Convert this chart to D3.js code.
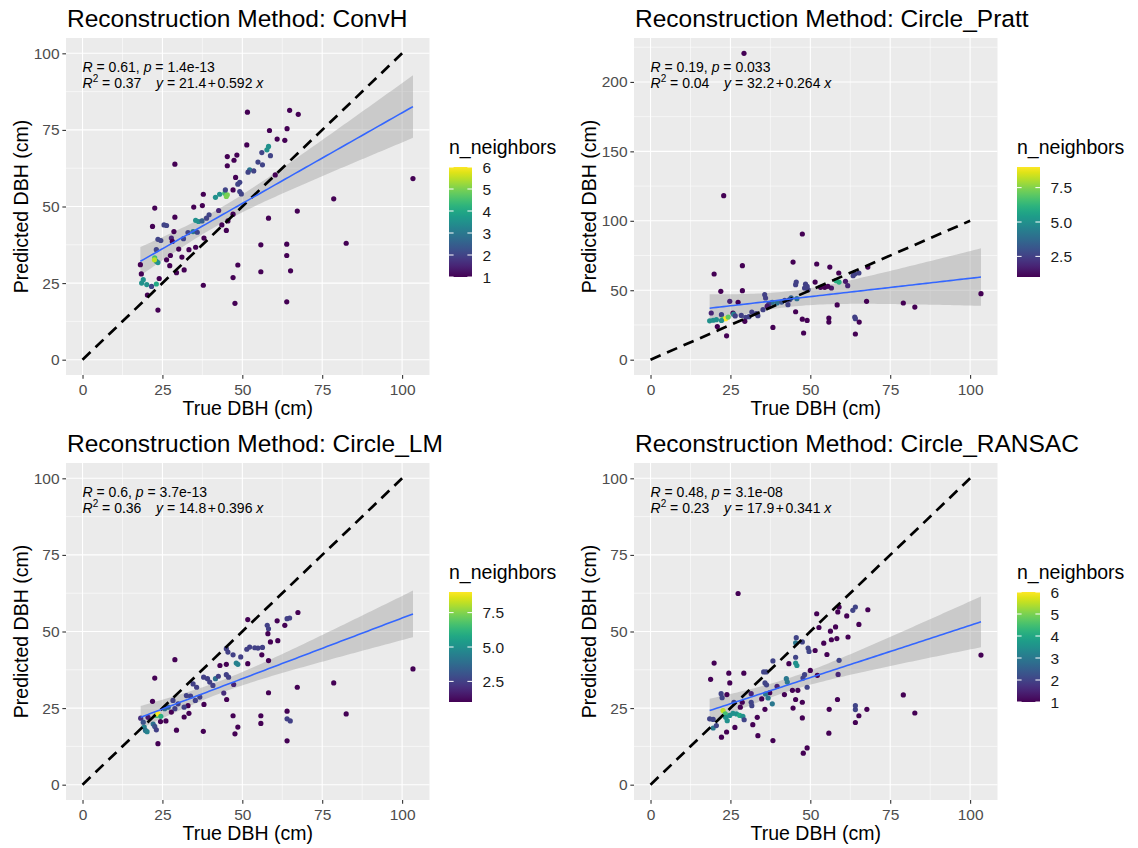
<!DOCTYPE html>
<meta charset="utf-8">
<style type="text/css">
body { margin: 0; background: #fff; }
text { font-family: "Liberation Sans", Arial, sans-serif; }
.panel-bg { fill: #EBEBEB; }
.grid-major { stroke: #fff; stroke-width: 1.1px; }
.grid-minor { stroke: #fff; stroke-width: 0.55px; }
.axis path.domain { display: none; }
.axis line { stroke: #333333; stroke-width: 1.1px; }
.axis text { fill: #4D4D4D; font-size: 15.5px; }
.band { fill: #999999; fill-opacity: 0.4; }
.fit { fill: none; stroke: #3366FF; stroke-width: 1.6px; }
.oneone { stroke: #000; stroke-width: 2.7px; stroke-dasharray: 11 7; fill: none; }
</style>
<body></body>
<script src="https://cdn.jsdelivr.net/npm/d3@7"></script>
<script>

// ---- panel labels and fit statistics ----
var methods = ["ConvH", "Circle_Pratt", "Circle_LM", "Circle_RANSAC"];
var statR = ["0.61", "0.19", "0.6", "0.48"];
var statP = ["1.4e-13", "0.033", "3.7e-13", "3.1e-08"];
var statR2 = ["0.37", "0.04", "0.36", "0.23"];
var intercepts = [21.4, 32.2, 14.8, 17.9];
var slopes = [0.592, 0.264, 0.396, 0.341];

// tick labels
var xTicks = [0, 25, 50, 75, 100];
var yTicks = [[0, 25, 50, 75, 100], [0, 50, 100, 150, 200], [0, 25, 50, 75, 100], [0, 25, 50, 75, 100]];
var colorLimits = [[1, 6], [1, 9], [1, 9], [1, 6]];
var legendTicks = [[1, 2, 3, 4, 5, 6], [2.5, 5, 7.5], [2.5, 5, 7.5], [1, 2, 3, 4, 5, 6]];
var legendLabels = [["1", "2", "3", "4", "5", "6"], ["2.5", "5.0", "7.5"], ["2.5", "5.0", "7.5"], ["1", "2", "3", "4", "5", "6"]];

// ---- ConvH ----
var convhTrue = [51.6,64.8,67.5,58.5,64.0,60.9,63.3,51.4,58.2,57.7,
  58.8,56.1,45.3,48.3,45.3,47.4,28.9,54.9,56.3,52.3,
  51.8,53.6,47.9,49.2,48.6,60.3,37.8,47.1,49.2,49.7,
  41.6,42.9,44.5,45.3,45.0,44.7,37.5,34.8,22.6,28.9,
  39.6,38.8,42.6,47.1,45.5,58.2,67.2,78.6,103.4,35.4,
  36.3,37.4,21.9,25.5,26.3,28.6,33.0,34.6,35.9,45.0,
  43.6,23.6,24.5,27.8,28.1,31.6,38.0,23.1,30.1,33.3,
  35.4,55.8,63.9,82.5,63.9,22.6,23.1,23.6,22.5,26.3,
  27.5,31.1,27.3,29.4,31.8,18.1,48.6,55.8,65.1,47.1,
  18.4,24.0,19.0,18.5,20.1,21.6,23.1,37.8,20.3,23.6,
  47.7,63.9];
var convhPred = [80.8,81.4,80.1,74.8,75.4,72.0,71.6,70.1,69.6,68.5,
  66.6,67.6,66.3,66.8,63.3,65.1,63.8,64.5,63.6,62.0,
  61.2,61.6,59.5,57.9,57.3,60.3,54.0,55.4,54.9,54.1,
  53.0,54.0,54.3,53.8,53.3,55.4,50.3,49.8,49.5,46.5,
  47.3,46.2,48.7,47.5,45.3,46.2,48.5,52.5,59.1,45.5,
  45.1,45.3,43.5,44.0,43.8,41.8,41.5,41.8,41.6,42.2,
  44.0,39.3,38.9,39.7,38.6,39.5,39.7,35.9,36.1,35.9,
  36.7,37.5,37.7,38.0,34.0,33.2,32.1,31.7,32.6,32.6,
  34.0,33.5,30.7,28.4,29.3,31.0,30.9,28.7,29.0,26.8,
  28.0,26.5,26.1,25.0,24.5,23.9,24.7,24.3,21.1,16.2,
  18.4,18.9];
var convhN = [1,1,1,1,1,1,1,1,3.5,3.5,
  2,2,1,1,1,1,1,2,2,3,
  2,2,1,2,2,1,1,1,2,2,
  3.5,3.5,4.5,5,5,2,1,1,1,1,
  2,2,1.5,1,1,1,1,1,1,3.5,
  3.5,2.5,1,2,2,1,2,3,2,1,
  1,2,2,1.5,1,2,1,2,1,1,
  1,1,1,1,1,4.5,3.5,3.5,5.5,1,
  1,1,1,1,1,1,1,1,1,1,
  1,1,3.5,3.5,3.5,2,4,1,1,1,
  1,1];

// ---- Circle_Pratt ----
var prattTrue = [47.5,19.9,28.75,44.6,52.0,56.1,68.0,58.9,65.2,63.9,
  63.4,61.0,58.1,59.0,45.6,45.4,51.5,48.5,49.0,48.2,
  49.3,53.2,54.5,56.6,55.5,61.7,28.75,22.0,35.7,24.8,
  27.4,36.0,38.1,39.6,42.0,43.5,45.8,43.0,67.6,79.1,
  82.7,103.4,58.4,45.4,19.0,22.2,25.8,31.7,33.1,28.4,
  29.8,33.6,35.2,18.5,19.6,20.6,22.7,23.5,24.3,22.2,
  26.0,20.9,23.8,29.5,38.3,47.5,49.0,47.9,55.8,55.8,
  63.9,64.1,65.3,64.1,29.25,22.9,37.0,41.0,44.0,26.5,
  30.8,36.5];
var prattPred = [90.5,61.7,67.7,70.3,68.9,66.7,66.7,62.4,62.4,61.7,
  60.5,56.4,56.9,55.9,55.9,54.0,55.9,54.4,52.8,51.6,
  50.4,52.1,52.1,51.6,52.8,53.3,49.7,49.2,46.8,42.0,
  41.3,44.4,41.3,40.8,42.7,43.2,43.9,39.6,42.0,40.8,
  37.9,47.5,39.4,34.5,33.6,32.4,33.6,34.3,33.1,31.9,
  30.5,31.7,36.0,28.0,28.4,28.8,29.3,29.5,30.7,28.2,
  32.8,23.9,17.2,27.6,23.2,29.2,28.3,19.2,30.0,27.1,
  30.7,29.5,27.1,18.5,220.6,118.1,40.0,41.5,44.5,31.5,
  31.0,38.5];
var prattN = [1,1,1,1,1,1,1,1,2.5,2.5,
  2.5,1.5,6,6,2.5,2.5,1,2.5,2.5,2.5,
  2.5,1,1,1.5,1,1.8,1,1,2.5,1.8,
  1,2.5,4,4,2.5,2.5,4,2.5,1,1,
  1,1,1,1,1.8,2.5,1,2.5,2.5,2.5,
  2.5,2.5,2.5,5,5,5,7,9,7,5,
  4.5,1,1,1,1,1,1,1,1,1,
  2.5,2.5,1,1,1,1,2.5,3,3.5,2.5,
  2.5,1.5];

// ---- Circle_LM ----
var lmTrue = [67.4,51.7,60.9,64.0,64.8,63.3,57.8,58.2,58.0,58.8,
  61.1,52.3,53.9,54.9,56.3,51.4,49.5,47.1,45.5,45.0,
  56.1,58.2,48.1,48.6,51.7,28.9,43.0,45.0,22.6,37.9,
  39.1,41.6,42.5,45.0,45.7,47.3,34.6,35.7,39.8,40.8,
  44.2,45.1,67.2,78.6,103.4,58.2,21.9,33.0,38.0,35.3,
  36.7,33.8,31.8,29.9,27.8,33.3,31.8,64.0,82.5,47.1,
  55.8,64.0,65.0,55.8,48.6,47.7,37.8,29.4,26.1,24.4,
  23.6,64.0,18.2,20.5,23.1,23.6,22.1,22.6,23.1,19.3,
  19.7,19.0,25.7,26.8,28.9,32.5,28.3,20.2,24.5];
var lmPred = [56.2,53.9,53.5,54.2,54.4,52.0,52.0,50.9,49.3,46.6,
  47.0,44.9,44.7,44.6,44.8,44.2,41.7,42.4,43.3,44.4,
  42.4,40.5,39.7,39.3,39.5,40.8,38.9,39.3,34.8,35.1,
  34.6,34.6,35.4,35.9,35.1,32.7,32.9,31.8,33.5,32.4,
  29.9,27.8,31.8,33.2,37.8,30.0,27.2,25.8,26.2,27.5,
  28.6,28.9,25.3,26.4,23.7,23.3,22.1,24.0,23.1,22.5,
  22.5,21.5,20.8,20.0,18.8,16.6,17.4,17.8,20.8,20.6,
  13.4,14.3,21.7,22.0,22.6,23.1,19.8,19.0,17.9,18.8,
  17.7,20.4,24.8,25.3,24.8,29.1,27.5,17.3,22.3];
var lmN = [1,1,1,2.5,2.5,1,2.5,2.5,1,1,
  1,2.5,2.5,2.5,2.5,2.5,2.5,2.5,2.5,2.5,
  1,1,4.5,4.5,1,1,1,1,1,2.5,
  2.5,4,2.5,2.5,2.5,1.8,2.5,2.5,2.5,2.5,
  2,1,1,1,1,1,1,1,1,2.5,
  2.5,2.5,2.5,2.5,1,1,1,1,1,1,
  1,2.5,2.5,1,1,1,1,1,1,1,
  1,1,2,1.5,6.5,9,4,3,2.5,4.5,
  4,3,4,3.5,2.5,2.5,2.5,4.5,6];

// ---- Circle_RANSAC ----
var ransacTrue = [27.4,59.0,58.6,52.0,64.1,63.3,68.0,61.4,52.7,57.9,
  56.3,65.2,61.8,58.3,56.6,54.2,45.6,47.5,45.4,49.3,
  49.6,51.5,55.2,45.4,43.3,38.3,45.4,45.8,59.0,58.7,
  19.9,18.8,24.5,24.8,29.2,35.4,36.2,50.0,52.2,48.2,
  47.7,49.0,42.5,42.8,35.8,36.3,39.6,44.4,46.1,41.9,
  37.3,34.8,36.0,36.8,38.1,45.4,47.5,58.5,79.1,82.7,
  103.4,64.1,64.1,67.7,65.2,64.1,55.9,44.6,35.8,22.1,
  22.4,23.9,26.1,28.7,31.5,31.5,31.7,28.1,33.4,32.0,
  26.4,23.8,22.2,33.6,38.3,55.8,49.0,47.8,47.5,22.7,
  23.4,24.0,23.5,24.8,25.8,26.9,27.9,28.9,29.3,18.5,
  19.6,19.6,20.6];
var ransacPred = [62.4,58.0,56.4,55.8,58.0,56.9,57.1,55.1,51.3,51.5,
  50.1,52.3,48.2,47.7,47.3,46.2,48.0,46.6,46.3,44.6,
  43.5,43.8,42.5,41.6,39.5,40.4,39.7,38.9,40.6,36.0,
  39.7,34.4,36.4,33.2,36.4,36.8,36.8,37.3,35.7,35.9,
  34.8,31.8,34.6,33.5,33.2,32.6,32.1,30.8,30.8,29.4,
  30.0,28.0,29.6,28.3,26.4,27.8,26.9,27.8,29.3,23.4,
  42.3,25.8,24.5,24.6,22.5,20.3,24.6,25.0,24.6,29.7,
  28.4,29.4,26.9,26.9,29.7,26.9,25.8,25.3,22.0,19.6,
  18.7,17.2,15.5,16.0,14.4,16.8,12.0,10.3,21.8,24.2,
  23.1,20.9,22.0,22.6,23.3,23.1,22.6,22.3,21.2,21.5,
  21.3,18.5,19.3];
var ransacN = [1,1,1,1,2,2,1,1,1,1,
  1,1,1,1,1,1,2,2,3,2,
  2,1,1,2,1,2,3.5,3.5,2,1.5,
  1,1,1,1,1,2,2,1,1,2,
  2,2,3,3,2,2,1.5,1,1,1,
  1,1,3,3,3,1,1,1,1,1,
  1,2,2,1,1,1,1,1,1,2,
  2,1,2,1,1.5,2,2,1,1,1,
  1,1,1,1,1,1,1,1,1,5.5,
  4.5,3.5,3.5,3.5,3.5,3.5,4,3.5,2,2,
  2,3,2];

var allTrue = [convhTrue, prattTrue, lmTrue, ransacTrue];
var allPred = [convhPred, prattPred, lmPred, ransacPred];
var allN = [convhN, prattN, lmN, ransacN];

// ---- layout ----
var width = 1138, height = 848;
var panelLeft = [66, 634, 66, 634],
    panelTop = [38, 38, 463, 463],
    panelW = 363.5, panelH = 337;

var svg = d3.select("body")
  .append("svg")
  .attr("width", width)
  .attr("height", height);

var defs = svg.append("defs");

for (var k = 0; k < 4; k++) {
  drawPanel(k, allTrue[k], allPred[k], allN[k]);
}

function drawPanel(k, xs, ys, ns) {
  var g = svg.append("g");
  var x0 = panelLeft[k], y0 = panelTop[k];

  // ranges include the 1:1 line (0..100) plus ggplot's 5% expansion
  var xMax = Math.max(100, d3.max(xs)), yMax = Math.max(100, d3.max(ys));
  var x = d3.scaleLinear().domain([-xMax * 0.05, xMax * 1.05]).range([x0, x0 + panelW]);
  var y = d3.scaleLinear().domain([-yMax * 0.05, yMax * 1.05]).range([y0 + panelH, y0]);

  var color = d3.scaleSequential(d3.interpolateViridis).domain(colorLimits[k]);

  g.append("rect").attr("class", "panel-bg")
    .attr("x", x0).attr("y", y0).attr("width", panelW).attr("height", panelH);

  // grid lines: minor halfway between the majors
  var yt = yTicks[k], ystep = yt[1] - yt[0];
  var yMinor = d3.range(yt[0] - ystep / 2, y.domain()[1], ystep).filter(function(v) { return v > y.domain()[0]; });
  var xstep = xTicks[1] - xTicks[0];
  var xMinor = d3.range(xTicks[0] - xstep / 2, x.domain()[1], xstep).filter(function(v) { return v > x.domain()[0]; });

  g.selectAll(".gy-minor").data(yMinor).enter().append("line").attr("class", "grid-minor")
    .attr("x1", x0).attr("x2", x0 + panelW).attr("y1", y).attr("y2", y);
  g.selectAll(".gx-minor").data(xMinor).enter().append("line").attr("class", "grid-minor")
    .attr("y1", y0).attr("y2", y0 + panelH).attr("x1", x).attr("x2", x);
  g.selectAll(".gy-major").data(yt).enter().append("line").attr("class", "grid-major")
    .attr("x1", x0).attr("x2", x0 + panelW).attr("y1", y).attr("y2", y);
  g.selectAll(".gx-major").data(xTicks).enter().append("line").attr("class", "grid-major")
    .attr("y1", y0).attr("y2", y0 + panelH).attr("x1", x).attr("x2", x);

  // confidence band of the linear fit (lm, 95%)
  var a = intercepts[k], b = slopes[k];
  var n = xs.length, xbar = d3.mean(xs);
  var sxx = d3.sum(xs, function(v) { return (v - xbar) * (v - xbar); });
  var rss = d3.sum(xs, function(v, i) { var r = ys[i] - (a + b * v); return r * r; });
  var s = Math.sqrt(rss / (n - 2));
  var tq = 1.985;
  var xmin = d3.min(xs), xmax = d3.max(xs);
  var grid = d3.range(80).map(function(i) { return xmin + i * (xmax - xmin) / 79; });
  var fitData = grid.map(function(v) {
    var f = a + b * v;
    var se = s * Math.sqrt(1 / n + (v - xbar) * (v - xbar) / sxx);
    return {x: v, y: f, lo: f - tq * se, hi: f + tq * se};
  });

  g.append("path").datum(fitData).attr("class", "band")
    .attr("d", d3.area().x(function(d) { return x(d.x); })
      .y0(function(d) { return y(d.lo); }).y1(function(d) { return y(d.hi); }));

  // points
  var pts = xs.map(function(v, i) { return {x: v, y: ys[i], n: ns[i]}; });
  g.selectAll(".dot").data(pts).enter().append("circle")
    .attr("cx", function(d) { return x(d.x); })
    .attr("cy", function(d) { return y(d.y); })
    .attr("r", 2.6)
    .attr("fill", function(d) { return color(d.n); });

  // 1:1 line
  g.append("line").attr("class", "oneone")
    .attr("x1", x(0)).attr("y1", y(0)).attr("x2", x(100)).attr("y2", y(100));

  // fitted line
  g.append("path").datum(fitData).attr("class", "fit")
    .attr("d", d3.line().x(function(d) { return x(d.x); }).y(function(d) { return y(d.y); }));

  // axes
  g.append("g").attr("class", "axis")
    .attr("transform", "translate(" + x0 + ",0)")
    .call(d3.axisLeft(y).tickValues(yt).tickSize(3.65).tickPadding(2.8));
  g.append("g").attr("class", "axis")
    .attr("transform", "translate(0," + (y0 + panelH) + ")")
    .call(d3.axisBottom(x).tickValues(xTicks).tickSize(3.65).tickPadding(5));

  // titles
  g.append("text").attr("x", x0 + 1).attr("y", y0 - 11.3)
    .style("font-size", "24.5px").text("Reconstruction Method: " + methods[k]);
  g.append("text").attr("x", x0 + panelW / 2).attr("y", y0 + panelH + 40)
    .attr("text-anchor", "middle").style("font-size", "19.5px").text("True DBH (cm)");
  g.append("text")
    .attr("transform", "translate(" + (x0 - 38.5) + "," + (y0 + panelH / 2) + ") rotate(-90)")
    .attr("text-anchor", "middle").style("font-size", "19.5px").text("Predicted DBH (cm)");

  // stat annotation
  var ax = x(0);
  var t1 = g.append("text").attr("x", ax).attr("y", y0 + 33.5).style("font-size", "14px");
  t1.append("tspan").style("font-style", "italic").text("R");
  t1.append("tspan").text(" = " + statR[k] + ", ");
  t1.append("tspan").style("font-style", "italic").text("p");
  t1.append("tspan").text(" = " + statP[k]);

  var t2 = g.append("text").attr("x", ax).attr("y", y0 + 50).style("font-size", "14px");
  t2.append("tspan").style("font-style", "italic").text("R");
  t2.append("tspan").attr("dy", -6).style("font-size", "10px").text("2");
  t2.append("tspan").attr("dy", 6).text(" = " + statR2[k]);

  var t3 = g.append("text").attr("x", ax + 73.5).attr("y", y0 + 50).style("font-size", "14px");
  t3.append("tspan").style("font-style", "italic").text("y");
  t3.append("tspan").text(" = " + a.toFixed(1));
  t3.append("tspan").attr("dx", 1.5).text("+");
  t3.append("tspan").attr("dx", 1.5).text(b.toFixed(3) + " ");
  t3.append("tspan").style("font-style", "italic").text("x");

  // colour bar legend
  var lx = x0 + panelW + 19.5, barTop = y0 + 129, barH = 110, barW = 23;
  var gradId = "grad" + k;
  var grad = defs.append("linearGradient").attr("id", gradId)
    .attr("x1", 0).attr("y1", 1).attr("x2", 0).attr("y2", 0);
  d3.range(0, 1.0001, 0.05).forEach(function(t) {
    grad.append("stop").attr("offset", t).attr("stop-color", d3.interpolateViridis(t));
  });
  g.append("text").attr("x", lx).attr("y", barTop - 13)
    .style("font-size", "19.5px").text("n_neighbors");
  g.append("rect").attr("x", lx).attr("y", barTop).attr("width", barW).attr("height", barH)
    .attr("fill", "url(#" + gradId + ")");

  var ly = d3.scaleLinear().domain(colorLimits[k]).range([barTop + barH, barTop]);
  legendTicks[k].forEach(function(v, i) {
    g.append("line").attr("x1", lx).attr("x2", lx + barW / 5)
      .attr("y1", ly(v)).attr("y2", ly(v)).attr("stroke", "#fff").attr("stroke-width", 1);
    g.append("line").attr("x1", lx + barW - barW / 5).attr("x2", lx + barW)
      .attr("y1", ly(v)).attr("y2", ly(v)).attr("stroke", "#fff").attr("stroke-width", 1);
    g.append("text").attr("x", lx + barW + 10.5).attr("y", ly(v)).attr("dy", "0.36em")
      .style("font-size", "15.5px").attr("fill", "#1a1a1a").text(legendLabels[k][i]);
  });
}

</script>
